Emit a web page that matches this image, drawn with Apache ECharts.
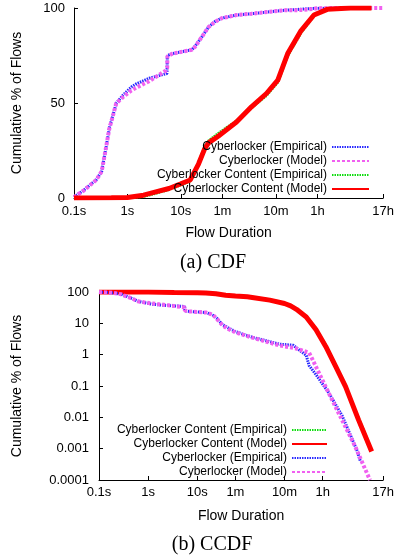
<!DOCTYPE html>
<html>
<head>
<meta charset="utf-8">
<script src="https://cdn.jsdelivr.net/npm/echarts@6/dist/echarts.min.js"></script>
<style>html,body{margin:0;padding:0;background:#fff;}#c{width:397px;height:559px;}</style>
</head>
<body>
<div id="c"></div>
<script>
// ---- tick labels ----
const xTickValues = [0.1, 1, 10, 60, 600, 3600, 61200];
const xTickLabels = ['0.1s', '1s', '10s', '1m', '10m', '1h', '17h'];
const cdfYTicks = [0, 50, 100];
const ccdfYLabels = ['0.0001', '0.001', '0.01', '0.1', '1', '10', '100'];

const nCL_E = 'Cyberlocker (Empirical)';
const nCL_M = 'Cyberlocker (Model)';
const nCC_E = 'Cyberlocker Content (Empirical)';
const nCC_M = 'Cyberlocker Content (Model)';

// ---- (a) CDF data (time in seconds, % of flows) ----
const cdfClEmpT = [0.1, 0.15, 0.2, 0.26, 0.33, 0.35, 0.4, 0.46, 0.54, 0.62, 0.82, 1.2, 1.45, 2.55, 4, 5.5, 5.6, 6, 7, 16, 18.5, 25, 33, 44, 58, 110, 210, 870, 3000, 8000, 21000];
const cdfClEmpV = [0.5, 4, 7, 9.5, 14, 18, 27, 37, 44, 50, 54, 58.5, 60, 63, 64.5, 65.5, 75, 75.5, 76, 78, 80, 85, 90, 93, 94.6, 96.3, 97, 98.8, 99.8, 100, 100];

const cdfClModT = [0.1, 0.15, 0.2, 0.26, 0.33, 0.35, 0.4, 0.46, 0.54, 0.617, 0.82, 1.17, 1.45, 2.55, 5.2, 5.55, 5.6, 7, 16, 18.5, 25, 33, 44, 58, 110, 210, 870, 1900, 3580, 8000, 61200];
const cdfClModV = [0.5, 3.8, 6.8, 9.5, 14, 18, 27, 36.7, 43.7, 49.8, 53, 56.5, 58, 61.5, 67, 68.5, 74.5, 76, 78, 79.6, 85, 90, 92.8, 94.6, 96.3, 97, 98.8, 98.9, 99.85, 100, 100];

const cdfCcEmpT = [0.1, 1, 2, 3.4, 6, 10, 15, 21.5, 28, 33, 50, 110, 210, 400, 653, 1000, 1770, 3100, 5500, 15000, 37000];
const cdfCcEmpV = [0, 0.1, 0.8, 2.5, 4.5, 7, 9, 18.5, 27, 30, 34, 40.5, 47.5, 54, 61, 75, 87, 96, 99.2, 100, 100];

const cdfCcModT = [0.1, 0.5, 1, 2, 3.4, 6, 10, 15, 21.5, 28, 33, 50, 110, 210, 400, 653, 1000, 1770, 3100, 5500, 15000, 37000];
const cdfCcModV = [0, 0.1, 0.3, 1.5, 3.2, 5, 7.5, 9.5, 18, 26, 29, 32.5, 40, 48, 55, 62, 76, 88, 96.3, 99.3, 100, 100];

// ---- (b) CCDF data (time in seconds, % of flows) ----
const ccdfCcEmpT = [0.1, 1, 3.4, 10, 15, 24, 38, 60, 105, 132, 300, 600, 800, 1050, 1660, 2630, 4170, 6600, 10500, 19300, 35700];
const ccdfCcEmpV = [100, 99.8, 97.5, 95.5, 93.5, 89, 80, 75, 71, 68, 56, 44, 37, 29, 16.5, 6.6, 1.95, 0.45, 0.1, 0.009, 0.0009];

const ccdfCcModT = [0.1, 1, 3.4, 10, 15, 24, 38, 60, 105, 132, 300, 600, 800, 1050, 1660, 2630, 4170, 6600, 10500, 19300, 35700];
const ccdfCcModV = [100, 99.7, 97, 95, 93, 88, 79, 74, 70, 67, 55, 43, 36, 28, 16, 6.2, 1.8, 0.42, 0.095, 0.0083, 0.00081];

const ccdfClEmpT = [0.1, 0.15, 0.2, 0.28, 0.37, 0.46, 0.61, 0.82, 1.2, 1.8, 2.55, 4.9, 5.55, 5.6, 7, 15.4, 21, 25, 33, 44, 61, 132, 485, 900, 1660, 1900, 2630, 4800, 9000, 17800, 21000];
const ccdfClEmpV = [100, 96, 93, 85, 72, 63, 51, 46, 41, 38.5, 37, 35, 34.5, 25, 24, 22, 18, 14.5, 9, 7, 5.4, 3.6, 2.15, 2.0, 0.95, 0.45, 0.23, 0.06, 0.011, 0.0009, 0.0004];

const ccdfClModT = [0.1, 0.15, 0.2, 0.28, 0.37, 0.46, 0.61, 0.82, 1.2, 1.8, 2.55, 4.9, 5.55, 5.6, 7, 15.4, 21, 25, 33, 44, 61, 132, 485, 1000, 1900, 2250, 3580, 7700, 16600, 33000];
const ccdfClModV = [100, 97, 93, 85, 71, 63, 51, 47, 43, 40, 38, 33, 32, 25.5, 24, 22, 18.6, 14, 8.5, 6.5, 5.1, 3.5, 1.95, 1.6, 1.15, 0.68, 0.15, 0.013, 0.00114, 0.0001];

function zip(t, v) { return t.map((x, i) => [x, v[i]]); }

const FONT = 'Liberation Sans';
const styles = {};
styles[nCL_E] = { color: '#2a2aff', width: 3, type: [1.5, 1] };
styles[nCL_M] = { color: '#f060f0', width: 4, type: [3, 2] };
styles[nCC_E] = { color: '#10dd10', width: 3, type: [1.5, 1] };
styles[nCC_M] = { color: '#ff0000', width: 5, type: 'solid' };

function mk(name, data, idx) {
  const s = styles[name];
  return {
    name: name, type: 'line', data: data, xAxisIndex: idx, yAxisIndex: idx,
    showSymbol: false, symbol: 'none', smooth: false, clip: true,
    itemStyle: { color: s.color },
    lineStyle: { color: s.color, width: s.width, type: s.type }
  };
}

function xAxisCfg(grid, margin, gap) {
  return {
    type: 'log', gridIndex: grid, min: 0.1, max: 61200, logBase: 10,
    name: 'Flow Duration', nameLocation: 'middle', nameGap: gap,
    nameTextStyle: { fontFamily: FONT, fontSize: 14, color: '#000' },
    axisLine: { show: true, lineStyle: { color: '#000', width: 1 } },
    axisTick: { show: true, inside: true, length: 4, customValues: xTickValues, lineStyle: { color: '#000' } },
    axisLabel: {
      show: true, margin: margin, customValues: xTickValues, fontFamily: FONT, fontSize: 13, color: '#000',
      formatter: function (v) {
        let best = 0, bd = Infinity;
        xTickValues.forEach((t, i) => { const d = Math.abs(Math.log10(t) - Math.log10(v)); if (d < bd) { bd = d; best = i; } });
        return xTickLabels[best];
      }
    },
    splitLine: { show: false }, minorTick: { show: false }
  };
}

const legendCommon = {
  orient: 'vertical', align: 'right', itemHeight: 12, itemGap: 2,
  selectedMode: false,
  itemStyle: { opacity: 0, borderWidth: 0 },
  textStyle: { fontFamily: FONT, fontSize: 12, color: '#000', lineHeight: 12 }
};

const option = {
  animation: false,
  backgroundColor: '#fff',
  title: [
    { text: '(a) CDF', left: 208, top: 248, textAlign: 'center',
      textStyle: { fontFamily: 'Liberation Serif', fontSize: 20, fontWeight: 'normal', color: '#000' } },
    { text: '(b) CCDF', left: 207, top: 530, textAlign: 'center',
      textStyle: { fontFamily: 'Liberation Serif', fontSize: 20, fontWeight: 'normal', color: '#000' } }
  ],
  grid: [
    { left: 74, top: 8, width: 314, height: 190 },
    { left: 99, top: 292, width: 289, height: 188 }
  ],
  legend: [
    Object.assign({}, legendCommon, { right: 22, top: 136, itemWidth: 37, data: [nCL_E, nCL_M, nCC_E, nCC_M] }),
    Object.assign({}, legendCommon, { right: 64, top: 419, itemWidth: 35, data: [nCC_E, nCC_M, nCL_E, nCL_M] })
  ],
  xAxis: [xAxisCfg(0, 7, 28), xAxisCfg(1, 6, 29)],
  yAxis: [
    { type: 'value', gridIndex: 0, min: 0, max: 100, interval: 50,
      name: 'Cumulative % of Flows', nameLocation: 'middle', nameGap: 50,
      nameTextStyle: { fontFamily: FONT, fontSize: 14, color: '#000' },
      axisLine: { show: true, lineStyle: { color: '#000', width: 1 } },
      axisTick: { show: true, inside: true, length: 4, lineStyle: { color: '#000' } },
      axisLabel: { margin: 9, fontFamily: FONT, fontSize: 13, color: '#000' },
      splitLine: { show: false } },
    { type: 'log', gridIndex: 1, min: 0.0001, max: 100, logBase: 10,
      name: 'Cumulative % of Flows', nameLocation: 'middle', nameGap: 75,
      nameTextStyle: { fontFamily: FONT, fontSize: 14, color: '#000' },
      axisLine: { show: true, lineStyle: { color: '#000', width: 1 } },
      axisTick: { show: true, inside: true, length: 4, lineStyle: { color: '#000' } },
      axisLabel: { margin: 10, fontFamily: FONT, fontSize: 13, color: '#000',
        formatter: function (v) { const e = Math.round(Math.log10(v)); return ccdfYLabels[e + 4]; } },
      splitLine: { show: false }, minorTick: { show: false } }
  ],
  series: [
    mk(nCL_E, zip(cdfClEmpT, cdfClEmpV), 0),
    mk(nCL_M, zip(cdfClModT, cdfClModV), 0),
    mk(nCC_E, zip(cdfCcEmpT, cdfCcEmpV), 0),
    mk(nCC_M, zip(cdfCcModT, cdfCcModV), 0),
    mk(nCC_E, zip(ccdfCcEmpT, ccdfCcEmpV), 1),
    mk(nCC_M, zip(ccdfCcModT, ccdfCcModV), 1),
    mk(nCL_E, zip(ccdfClEmpT, ccdfClEmpV), 1),
    mk(nCL_M, zip(ccdfClModT, ccdfClModV), 1)
  ]
};

const chart = echarts.init(document.getElementById('c'), null, { renderer: 'canvas' });
chart.setOption(option);
</script>
</body>
</html>
